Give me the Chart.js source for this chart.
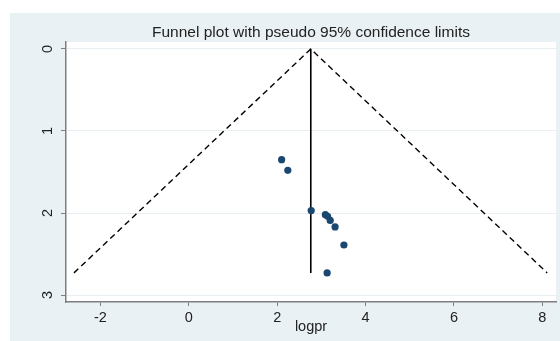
<!DOCTYPE html>
<html lang="en">

<head>
    <meta charset="UTF-8">
    <meta name="viewport" content="width=device-width, initial-scale=1.0">
    <script src="https://cdn.jsdelivr.net/npm/chart.js"></script>
    <title>Funnel plot</title>
</head>

<body>
    <div class="chart-wrapper">
        <canvas id="myChart"></canvas>
    </div>
    <style>
        body {
            background-color: #fff;
            margin: 0;
        }

        .chart-wrapper {
            position: relative;
            height: 341px;
            width: 560px;
        }
    </style>
    <script>
        // study estimates (x) and their standard errors (y)
        const logpr = [2.10, 2.24, 2.77, 3.09, 3.14, 3.20, 3.31, 3.51, 3.13];
        const seLogpr = [1.35, 1.48, 1.97, 2.02, 2.04, 2.09, 2.17, 2.39, 2.73];

        // pooled estimate line and pseudo 95% limits
        const pooledX = [2.76, 2.76];
        const pooledY = [0, 2.73];
        const limitX = [-2.60, 2.76, 8.11];
        const limitY = [2.73, 0, 2.73];

        const xTicks = [-2, 0, 2, 4, 6, 8];
        const yTicks = [0, 1, 2, 3];

        const toPoints = (xs, ys) => xs.map((x, i) => ({ x: x, y: ys[i] }));
        const FONT = "'Liberation Sans', Arial, sans-serif";

        const backdrop = {
            id: "backdrop",
            beforeDraw: (chart) => {
                const { ctx, chartArea } = chart;
                ctx.save();
                ctx.fillStyle = "#fff";
                ctx.fillRect(0, 0, chart.width, chart.height);
                ctx.fillStyle = "#eaf1f4";
                ctx.fillRect(10, 13, chart.width - 10, chart.height - 13);
                ctx.fillStyle = "#fff";
                ctx.fillRect(chartArea.left, chartArea.top, chartArea.right - chartArea.left, chartArea.bottom - chartArea.top);
                ctx.restore();
            }
        };

        // stata style: y labels turned to read bottom to top
        const yLabels = {
            id: "yLabels",
            afterDraw: (chart) => {
                const { ctx } = chart;
                const y = chart.scales.y;
                ctx.save();
                ctx.fillStyle = "#222";
                ctx.font = "14.5px " + FONT;
                ctx.textAlign = "center";
                ctx.textBaseline = "middle";
                yTicks.forEach(v => {
                    ctx.save();
                    ctx.translate(y.right - 18, y.getPixelForValue(v));
                    ctx.rotate(-Math.PI / 2);
                    ctx.fillText(String(v), 0, 0);
                    ctx.restore();
                });
                ctx.restore();
            }
        };

        Chart.defaults.font.family = FONT;
        Chart.defaults.color = "#222";

        new Chart(document.getElementById("myChart"), {
            type: "scatter",
            data: {
                datasets: [
                    {
                        label: "studies",
                        data: toPoints(logpr, seLogpr),
                        backgroundColor: "#1a476f",
                        borderColor: "#1a476f",
                        pointRadius: 3.6,
                        borderWidth: 0
                    },
                    {
                        label: "pooled",
                        data: toPoints(pooledX, pooledY),
                        showLine: true,
                        borderColor: "#000",
                        borderWidth: 1.6,
                        pointRadius: 0
                    },
                    {
                        label: "limits",
                        data: toPoints(limitX, limitY),
                        showLine: true,
                        borderColor: "#000",
                        borderWidth: 1.4,
                        borderDash: [6, 4],
                        pointRadius: 0
                    }
                ]
            },
            options: {
                responsive: true,
                maintainAspectRatio: false,
                animation: false,
                layout: { padding: { left: 10, top: 13, right: 3, bottom: 0 } },
                scales: {
                    x: {
                        min: -2.78,
                        max: 8.31,
                        afterBuildTicks: (s) => { s.ticks = xTicks.map(v => ({ value: v })); },
                        afterFit: (s) => { s.height = 39; },
                        ticks: { font: { size: 14.5 }, padding: 3, maxRotation: 0 },
                        grid: { drawOnChartArea: false, tickLength: 4, tickColor: "#7f7f7f" },
                        border: { color: "#7f7f7f", width: 1.5 },
                        title: { display: true, text: "logpr", font: { size: 14.5 }, padding: { top: 0, bottom: 5 } }
                    },
                    y: {
                        reverse: true,
                        min: -0.085,
                        max: 3.085,
                        afterBuildTicks: (s) => { s.ticks = yTicks.map(v => ({ value: v })); },
                        afterFit: (s) => { s.width = 56; },
                        ticks: { color: "transparent", font: { size: 10 } },
                        grid: { color: "#e6eef1", tickLength: 5, tickColor: "#7f7f7f" },
                        border: { color: "#7f7f7f", width: 1.5 }
                    }
                },
                plugins: {
                    legend: { display: false },
                    tooltip: { enabled: false },
                    title: {
                        display: true,
                        fullSize: false,
                        text: "Funnel plot with pseudo 95% confidence limits",
                        color: "#222",
                        font: { size: 15.5, weight: "normal" },
                        padding: { top: 10.4, bottom: 0 }
                    }
                }
            },
            plugins: [backdrop, yLabels]
        });
    </script>
</body>

</html>
